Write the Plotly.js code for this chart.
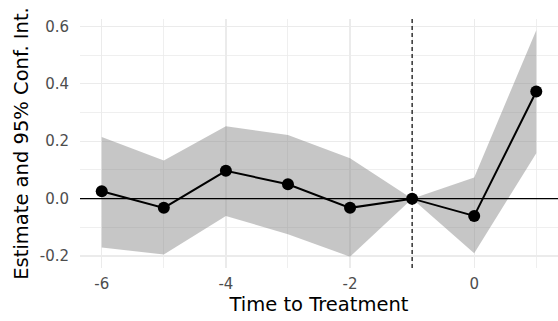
<!DOCTYPE html>
<html>
<head>
<meta charset="utf-8">
<script src="https://cdn.plot.ly/plotly-3.0.1.min.js"></script>
<style>html,body{margin:0;padding:0;background:#fff;}#chart{width:558px;height:321px;}</style>
</head>
<body>
<div id="chart"></div>
<script>
// Event-study estimates
const times    = [-6, -5, -4, -3, -2, -1, 0, 1];
const estimate = [0.026, -0.032, 0.097, 0.050, -0.032, 0, -0.060, 0.373];
const ciLower  = [-0.170, -0.194, -0.060, -0.124, -0.202, 0, -0.190, 0.158];
const ciUpper  = [0.215, 0.133, 0.252, 0.222, 0.141, 0, 0.074, 0.586];
const treatmentTime = -1;
const xTickVals = [-6, -4, -2, 0];
const xTickText = ["-6", "-4", "-2", "0"];
const yTickVals = [-0.2, 0, 0.2, 0.4, 0.6];
const yTickText = ["-0.2", "0.0", "0.2", "0.4", "0.6"];

function expand(vals, f) {
  const lo = Math.min(...vals), hi = Math.max(...vals), d = (hi - lo) * f;
  return [lo - d, hi + d];
}
const xRange = expand(times, 0.05);
const yRange = expand(ciLower.concat(ciUpper, estimate), 0.05);

const font = "DejaVu Sans, sans-serif";
const traces = [
  {x: times, y: ciUpper, type: "scatter", mode: "lines", line: {width: 0}, hoverinfo: "skip", showlegend: false},
  {x: times, y: ciLower, type: "scatter", mode: "lines", line: {width: 0}, fill: "tonexty",
   fillcolor: "rgba(128,128,128,0.45)", hoverinfo: "skip", showlegend: false},
  {x: times, y: estimate, type: "scatter", mode: "lines+markers",
   line: {color: "#000", width: 2}, marker: {color: "#000", size: 12}, showlegend: false}
];

const grid = "#ebebeb";
const layout = {
  width: 558, height: 321,
  margin: {l: 80, r: 0, t: 19, b: 53},
  paper_bgcolor: "#fff", plot_bgcolor: "#fff",
  showlegend: false,
  xaxis: {
    range: xRange, tickmode: "array", tickvals: xTickVals, ticktext: xTickText,
    showgrid: true, gridcolor: grid, gridwidth: 1.3, zeroline: false, showline: false,
    ticks: "", ticklabelstandoff: 5,
    tickfont: {family: font, size: 15, color: "#4d4d4d"},
    minor: {tickmode: "linear", tick0: 0, dtick: 1, showgrid: true, gridcolor: grid, gridwidth: 0.8},
    title: {text: "Time to Treatment", font: {family: font, size: 19.5, color: "#000"}, standoff: 1}
  },
  yaxis: {
    range: yRange, tickmode: "array", tickvals: yTickVals, ticktext: yTickText,
    showgrid: true, gridcolor: grid, gridwidth: 1.3, zeroline: false, showline: false,
    ticks: "", ticklabelstandoff: 10,
    tickfont: {family: font, size: 15, color: "#4d4d4d"},
    minor: {tickmode: "linear", tick0: 0, dtick: 0.1, showgrid: true, gridcolor: grid, gridwidth: 0.8},
    title: {text: "Estimate and 95% Conf. Int.", font: {family: font, size: 19.5, color: "#000"}, standoff: 5}
  },
  shapes: [
    {type: "line", xref: "paper", yref: "y", x0: 0, x1: 1, y0: 0, y1: 0, layer: "above",
     line: {color: "#000", width: 1.1}},
    {type: "line", xref: "x", yref: "paper", x0: treatmentTime, x1: treatmentTime, y0: 0, y1: 1, layer: "above",
     line: {color: "#000", width: 1.2, dash: "4px,3px"}}
  ]
};

Plotly.newPlot("chart", traces, layout, {displayModeBar: false, staticPlot: true});
</script>
</body>
</html>
